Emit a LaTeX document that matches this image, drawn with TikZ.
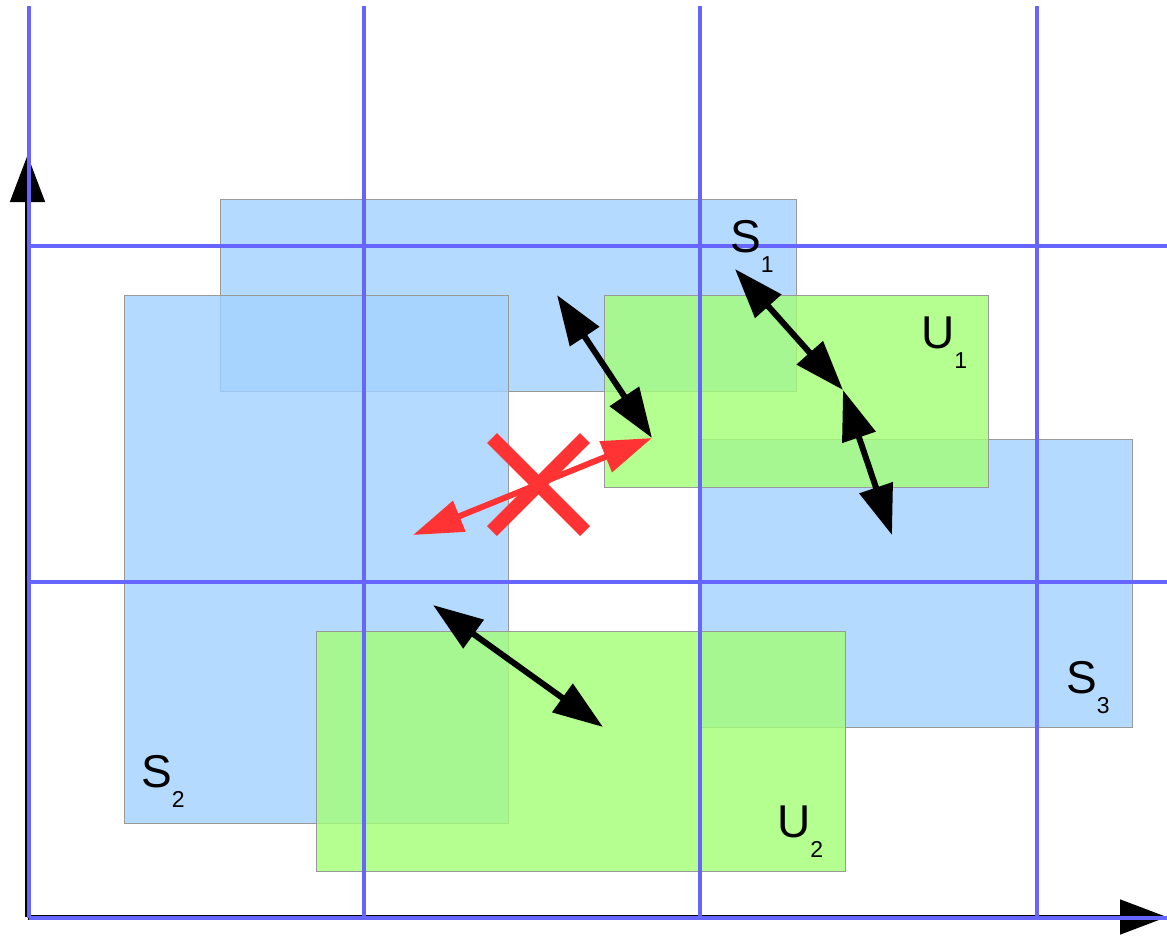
\documentclass[tikz,border=0pt]{standalone}
\usepackage{fontspec}
\setmainfont{Liberation Sans}
\usepackage{tikz}
\usetikzlibrary{arrows.meta}

\definecolor{gridblue}{RGB}{102,102,255}
\definecolor{setblue}{RGB}{162,209,255}
\definecolor{setgreen}{RGB}{162,255,117}
\definecolor{badred}{RGB}{255,51,51}

\newcommand{\setlbl}[2]{#1\raisebox{-20pt}{\fontsize{23}{23}\selectfont #2}}

\begin{document}
\begin{tikzpicture}[x=1pt,y=-1pt]
\tikzstyle{sset}=[fill=setblue,fill opacity=0.8,draw=black!40,line width=0.8pt]
\tikzstyle{uset}=[fill=setgreen,fill opacity=0.8,draw=black!40,line width=0.8pt]
\tikzstyle{gridline}=[gridblue,line width=4pt]
\tikzstyle{axisline}=[black,line width=5pt,-{Triangle[length=47pt,width=34pt]}]
\tikzstyle{move}=[black,line width=6pt,{Triangle[length=50pt,width=34pt]}-{Triangle[length=50pt,width=34pt]}]
\tikzstyle{blocked}=[badred,line width=6pt,{Triangle[length=50pt,width=32pt]}-{Triangle[length=50pt,width=32pt]}]
\tikzstyle{cross}=[badred,line width=14pt,line cap=butt]
\tikzstyle{lbl}=[font=\fontsize{46}{46}\selectfont,anchor=base west,inner sep=0pt]
\useasboundingbox (0,0) rectangle (1167,935);

\filldraw[sset] (220,199) rectangle (796,391);
\filldraw[sset] (124,295) rectangle (508,823);
\filldraw[sset] (700,439) rectangle (1132,727);
\filldraw[uset] (604,295) rectangle (988,487);
\filldraw[uset] (316,631) rectangle (845,871);

\coordinate (o) at (27.5,917);
\coordinate (ytip) at (27.5,155);
\coordinate (xtip) at (1167,917);
\draw[axisline] (o) -- (ytip);
\draw[axisline] (o) -- (xtip);

\draw[gridline] (29,6) -- (29,918);
\draw[gridline] (364,6) -- (364,918);
\draw[gridline] (700,6) -- (700,918);
\draw[gridline] (1037,6) -- (1037,918);
\draw[gridline] (29,246) -- (1167,246);
\draw[gridline] (29,582) -- (1167,582);
\draw[gridline] (29,918) -- (1167,918);

\coordinate (a1) at (557,295);
\coordinate (b1) at (652,438);
\coordinate (a2) at (735,269);
\coordinate (b2) at (843,390);
\coordinate (a3) at (843,390);
\coordinate (b3) at (892,535);
\coordinate (a4) at (433,605);
\coordinate (b4) at (603,727);
\coordinate (r1) at (413,535);
\coordinate (r2) at (652,438);
\draw[move] (a1) -- (b1);
\draw[move] (a2) -- (b2);
\draw[move] (a3) -- (b3);
\draw[move] (a4) -- (b4);
\draw[blocked] (r1) -- (r2);

\coordinate (x1) at (492,438);
\coordinate (x2) at (585,531);
\coordinate (x3) at (585,438);
\coordinate (x4) at (492,531);
\draw[cross] (x1) -- (x2);
\draw[cross] (x3) -- (x4);

\node[lbl] (s1) at (730,252) {\setlbl{S}{1}};
\node[lbl] (u1) at (921,348) {\setlbl{U}{1}};
\node[lbl] (s2) at (141,787) {\setlbl{S}{2}};
\node[lbl] (s3) at (1066,693) {\setlbl{S}{3}};
\node[lbl] (u2) at (777,837) {\setlbl{U}{2}};
\end{tikzpicture}
\end{document}
